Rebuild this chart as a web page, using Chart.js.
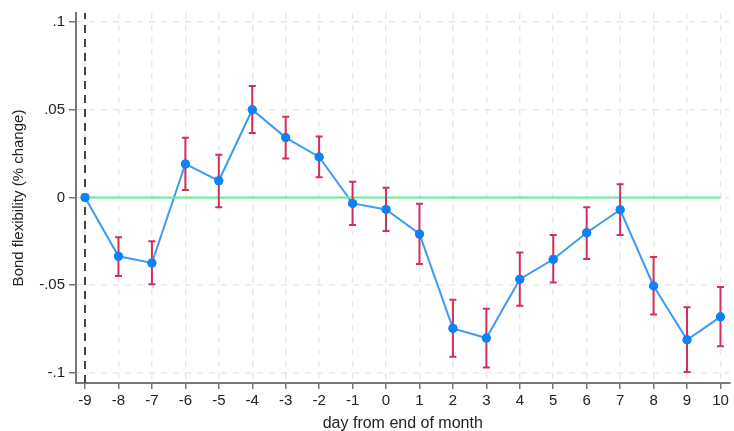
<!DOCTYPE html>
<html>
<head>
    <meta charset="UTF-8">
    <title>Bond flexibility</title>
    <script src="https://cdn.jsdelivr.net/npm/chart.js@4/dist/chart.umd.min.js"></script>
    <style>
        body { margin: 0; background: #fff; }
        #wrap { width: 734px; height: 431px; }
    </style>
</head>
<body>
    <div id="wrap"><canvas id="chart" width="734" height="431"></canvas></div>

    <script>
        var days = [-9, -8, -7, -6, -5, -4, -3, -2, -1, 0, 1, 2, 3, 4, 5, 6, 7, 8, 9, 10];
        var coef = [0, -0.0335, -0.0373, 0.0191, 0.0095, 0.0500, 0.0341, 0.0231, -0.0034, -0.0068,
                    -0.0208, -0.0746, -0.0801, -0.0466, -0.0352, -0.0201, -0.0070, -0.0504, -0.0811, -0.0680];
        var ciHigh = [null, -0.0226, -0.0250, 0.0340, 0.0243, 0.0635, 0.0460, 0.0348, 0.0089, 0.0055,
                      -0.0036, -0.0583, -0.0634, -0.0313, -0.0214, -0.0055, 0.0076, -0.0339, -0.0625, -0.0510];
        var ciLow = [null, -0.0447, -0.0494, 0.0042, -0.0055, 0.0368, 0.0222, 0.0115, -0.0157, -0.0191,
                     -0.0379, -0.0907, -0.0968, -0.0617, -0.0485, -0.0350, -0.0214, -0.0667, -0.0994, -0.0848];
        var yTicks = [-0.1, -0.05, 0, 0.05, 0.1];
        var yTickLabels = ['-.1', '-.05', '0', '.05', '.1'];
        var xTicks = days;

        var yMin = -0.1057, yMax = 0.1051;
        var xMin = -9.27, xMax = 10.27;

        // error bars drawn through the scales
        var errorBars = {
            id: 'errorBars',
            afterDatasetsDraw: function (chart) {
                var ctx = chart.ctx;
                var xs = chart.scales.x, ys = chart.scales.y;
                ctx.save();
                ctx.strokeStyle = '#d22f5a';
                ctx.lineWidth = 2;
                for (var i = 0; i < days.length; i++) {
                    if (ciHigh[i] === null) continue;
                    var px = xs.getPixelForValue(days[i]);
                    var top = ys.getPixelForValue(ciHigh[i]);
                    var bot = ys.getPixelForValue(ciLow[i]);
                    ctx.beginPath();
                    ctx.moveTo(px, top); ctx.lineTo(px, bot);
                    ctx.moveTo(px - 3.5, top); ctx.lineTo(px + 3.5, top);
                    ctx.moveTo(px - 3.5, bot); ctx.lineTo(px + 3.5, bot);
                    ctx.stroke();
                }
                ctx.restore();
                // redraw points on top of the bars
                var meta = chart.getDatasetMeta(2);
                meta.data.forEach(function (p) { p.draw(ctx, chart.chartArea); });
            }
        };

        var ctx = document.getElementById('chart').getContext('2d');
        var chart = new Chart(ctx, {
            type: 'line',
            data: {
                datasets: [{
                    label: 'zero',
                    data: [{ x: days[0], y: 0 }, { x: days[days.length - 1], y: 0 }],
                    borderColor: '#5ff09a',
                    borderWidth: 2,
                    pointRadius: 0
                },
                {
                    label: 'ref',
                    data: [{ x: -9, y: yMin }, { x: -9, y: yMax }],
                    borderColor: '#444',
                    borderWidth: 2,
                    borderDash: [8, 6],
                    pointRadius: 0
                },
                {
                    label: 'coef',
                    data: days.map(function (d, i) { return { x: d, y: coef[i] }; }),
                    borderColor: '#3d9af5',
                    borderWidth: 2,
                    pointRadius: 4.5,
                    pointBackgroundColor: '#0a82fa',
                    pointBorderWidth: 0,
                    tension: 0
                }]
            },
            options: {
                responsive: false,
                animation: false,
                layout: { padding: { top: 12, right: 3, left: 0, bottom: 0 } },
                plugins: { legend: { display: false }, tooltip: { enabled: false } },
                scales: {
                    x: {
                        type: 'linear',
                        min: xMin, max: xMax,
                        afterBuildTicks: function (axis) { axis.ticks = xTicks.map(function (v) { return { value: v }; }); },
                        afterFit: function (axis) { axis.height = 48; },
                        ticks: {
                            autoSkip: false, maxRotation: 0, padding: 3,
                            color: '#222', font: { family: 'Liberation Sans', size: 15 },
                            callback: function (v) { return String(v); }
                        },
                        grid: {
                            color: '#e9e9e9', lineWidth: 1.5,
                            tickColor: '#777', tickLength: 6, tickWidth: 1.5
                        },
                        border: { color: '#777', width: 2, dash: [6, 6] },
                        title: {
                            display: true, text: 'day from end of month', color: '#222',
                            font: { family: 'Liberation Sans', size: 16 }, padding: { top: 0, bottom: -2.5 }
                        }
                    },
                    y: {
                        type: 'linear',
                        min: yMin, max: yMax,
                        afterBuildTicks: function (axis) { axis.ticks = yTicks.map(function (v) { return { value: v }; }); },
                        afterFit: function (axis) { axis.width = 76; },
                        ticks: {
                            padding: 4, color: '#222', font: { family: 'Liberation Sans', size: 15 },
                            callback: function (v) {
                                var i = yTicks.indexOf(v);
                                return i >= 0 ? yTickLabels[i] : '';
                            }
                        },
                        grid: {
                            color: '#e9e9e9', lineWidth: 1.5,
                            tickColor: '#777', tickLength: 7, tickWidth: 1.5
                        },
                        border: { color: '#777', width: 2, dash: [6, 6] },
                        title: {
                            display: true, text: 'Bond flexibility (% change)', color: '#222',
                            font: { family: 'Liberation Sans', size: 15 }, padding: { top: 9.5, bottom: 10 }
                        }
                    }
                }
            },
            plugins: [errorBars]
        });
    </script>
</body>
</html>
